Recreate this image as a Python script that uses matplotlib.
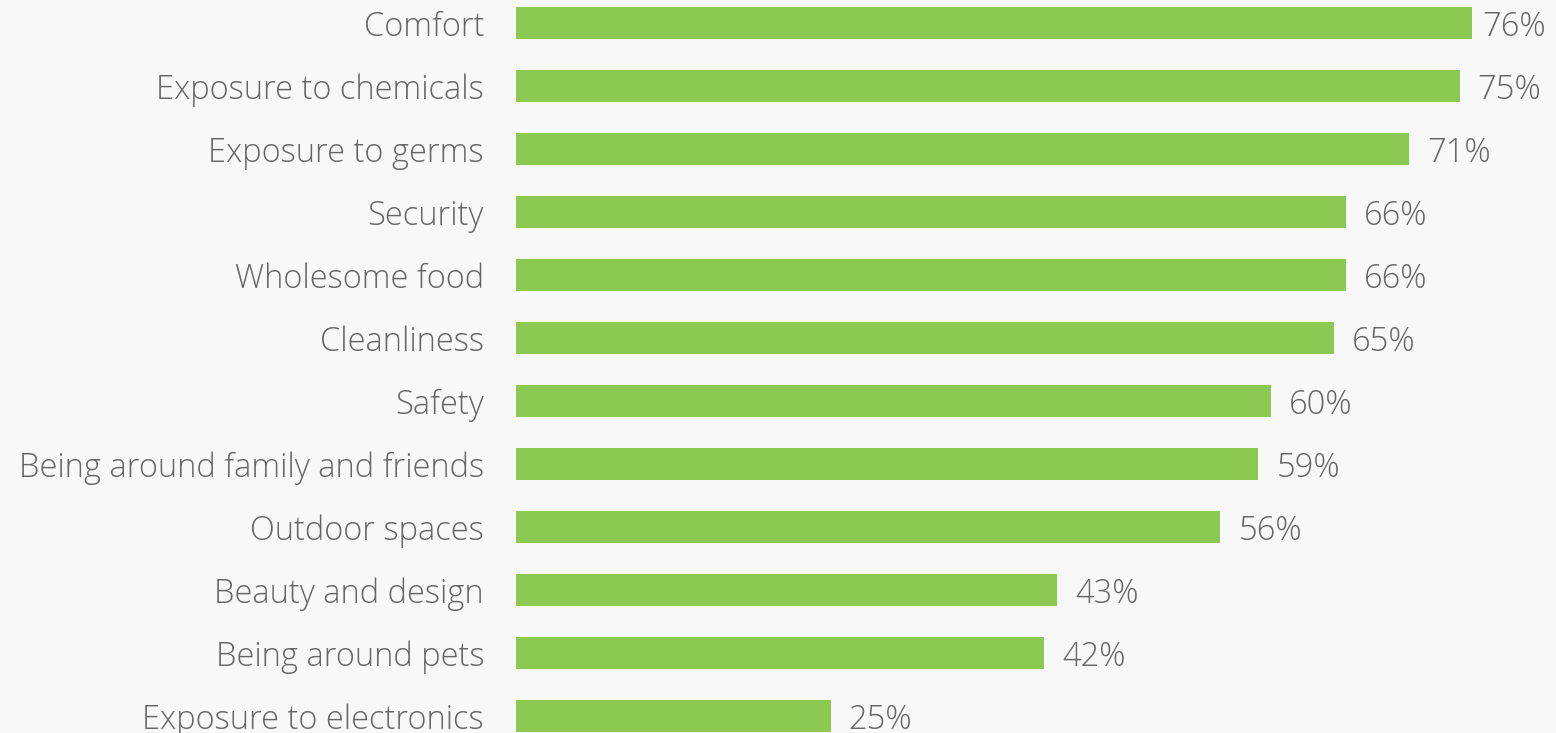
import matplotlib.pyplot as plt

categories = ['Comfort', 'Exposure to chemicals', 'Exposure to germs', 'Security',
              'Wholesome food', 'Cleanliness', 'Safety', 'Being around family and friends',
              'Outdoor spaces', 'Beauty and design', 'Being around pets',
              'Exposure to electronics']
values = [76, 75, 71, 66, 66, 65, 60, 59, 56, 43, 42, 25]

bg = '#f8f8f8'
bar_color = '#8bc953'
text_color = '#666666'

fig = plt.figure(figsize=(15.56, 7.33), dpi=100, facecolor=bg)
ax = fig.add_axes([516 / 1556, 0, 1 - 516 / 1556, 1])
ax.set_facecolor(bg)

pos = list(range(len(categories)))
ax.barh(pos, values, height=32 / 63, color=bar_color)

# ~12.58 px per percent, 63 px between bars
ax.set_xlim(0, 1040 / 12.58)
ax.set_ylim((733 - 23) / 63, -23 / 63)

base = 13 / 63  # baseline sits a bit under the bar centre
for p, v in zip(pos, values):
    # keep the top label inside the picture
    x = min(v + 18 / 12.58, 76.8)
    ax.text(x, p + base, f'{v}%', va='baseline', ha='left',
            fontsize=23.5, color=text_color, family='Open Sans', fontweight='light')
    ax.text(-32 / 12.58, p + base, categories[p], va='baseline', ha='right',
            fontsize=23.5, color=text_color, family='Open Sans', fontweight='light')

ax.set_xticks([])
ax.set_yticks([])
for s in ax.spines.values():
    s.set_visible(False)

fig.savefig('out.png', dpi=100, facecolor=bg)
